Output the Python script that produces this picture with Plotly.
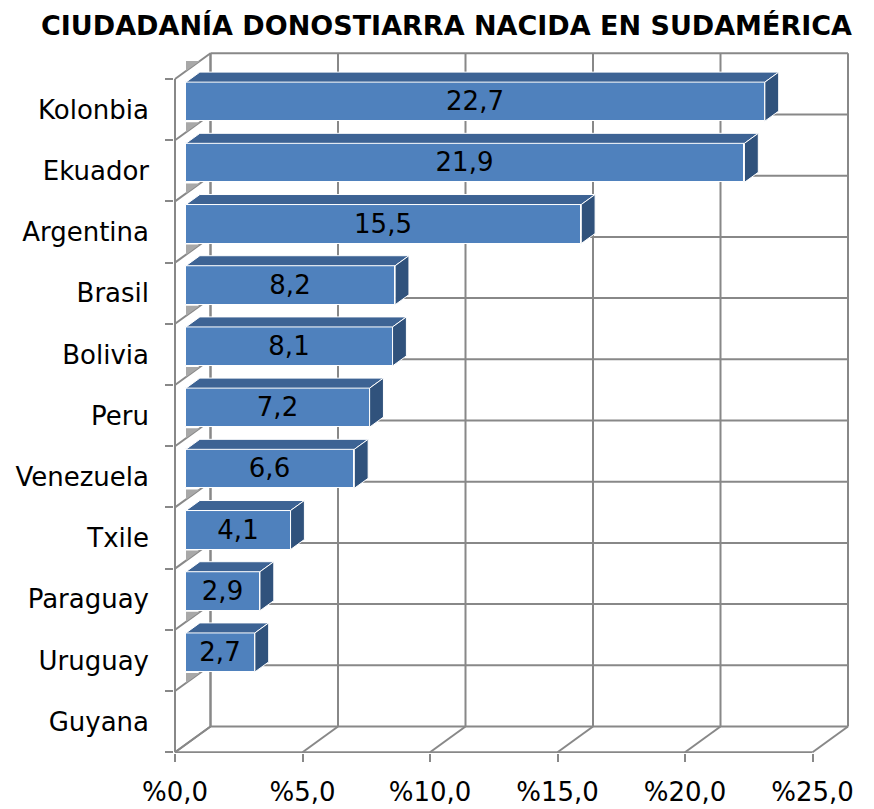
import plotly.graph_objects as go

categories = ["Kolonbia", "Ekuador", "Argentina", "Brasil", "Bolivia", "Peru",
              "Venezuela", "Txile", "Paraguay", "Uruguay", "Guyana"]
values = [22.7, 21.9, 15.5, 8.2, 8.1, 7.2, 6.6, 4.1, 2.9, 2.7, None]
x_ticks = [0, 5, 10, 15, 20, 25]
x_tick_labels = ["%0,0", "%5,0", "%10,0", "%15,0", "%20,0", "%25,0"]
title_text = "CIUDADANÍA DONOSTIARRA NACIDA EN SUDAMÉRICA"

# ---- 3D projection constants (style) ----
DX = 35.5 / 25.5      # depth offset in x data units
DY = 25.7 / 61.2      # depth offset in category units
F = 0.31              # bar front position along depth
BD = 0.39             # bar depth fraction
BH = 0.637            # bar height in category units
GRID = "#888888"
FONT = "DejaVu Sans"

n = len(categories)
xmax = x_ticks[-1]

fig = go.Figure()

# ---- walls (shapes below traces) ----
shapes = []
def seg(x0, y0, x1, y1):
    shapes.append(dict(type="line", xref="x", yref="y", x0=x0, y0=y0, x1=x1, y1=y1,
                       line=dict(color=GRID, width=2), layer="below"))

# left wall
seg(0, 0, 0, n)
seg(DX, -DY, DX, n - DY)
for k in range(n + 1):
    seg(0, k, DX, k - DY)
# back wall
for t in x_ticks:
    seg(t + DX, -DY, t + DX, n - DY)
for k in range(n + 1):
    seg(DX, k - DY, xmax + DX, k - DY)
# floor
seg(0, n, xmax, n)
for t in x_ticks:
    seg(t, n, t + DX, n - DY)

# small gray wall patches next to each category
fx = F * DX
bdx = BD * DX
bdy = BD * DY
for k in range(n):
    path = (f"M {fx},{k - (F + BD) * DY} L {fx + bdx},{k - (F + BD) * DY} "
            f"L {fx},{k - F * DY} Z")
    shapes.append(dict(type="path", xref="x", yref="y", path=path,
                       fillcolor="#A8A8A8", line=dict(width=0), layer="below"))

# ---- bar front faces ----
centers = [k + 0.5 - F * DY for k in range(n)]
texts = [("" if v is None else f"{v:.1f}".replace(".", ",")) for v in values]
fig.add_trace(go.Bar(
    y=centers, x=values, base=fx, orientation="h", width=BH,
    marker=dict(color="#4F81BD", line=dict(color="#FFFFFF", width=1)),
    text=texts, textposition="inside", insidetextanchor="middle",
    constraintext="none", textangle=0,
    textfont=dict(family=FONT, size=26, color="#000000"),
    hoverinfo="skip", showlegend=False,
))

# ---- top and side faces ----
tx, ty, sx, sy = [], [], [], []
for k, v in enumerate(values):
    if v is None:
        continue
    yt = centers[k] - BH / 2
    yb = centers[k] + BH / 2
    x1 = fx + v
    tx += [fx, x1, x1 + bdx, fx + bdx, fx, None]
    ty += [yt, yt, yt - bdy, yt - bdy, yt, None]
    sx += [x1, x1, x1 + bdx, x1 + bdx, x1, None]
    sy += [yt, yb, yb - bdy, yt - bdy, yt, None]

fig.add_trace(go.Scatter(x=tx, y=ty, mode="lines", fill="toself",
                         fillcolor="#3D6394", line=dict(color="#FFFFFF", width=1),
                         hoverinfo="skip", showlegend=False))
fig.add_trace(go.Scatter(x=sx, y=sy, mode="lines", fill="toself",
                         fillcolor="#30527C", line=dict(color="#FFFFFF", width=1),
                         hoverinfo="skip", showlegend=False))

W, H = 874, 809
PL, PR, PT, PB = 174, 850, 50, 753          # plot area in page pixels
X0PX, XUNIT = 175, 25.5                      # page px of x=0, px per unit
Y0PX, YUNIT = 79, 61.2                       # page px of category boundary 0, px per slot
x0 = (PL - X0PX) / XUNIT
x1r = (PR - X0PX) / XUNIT
y_top = (PT - Y0PX) / YUNIT
y_bot = (PB - Y0PX) / YUNIT

fig.update_layout(
    width=W, height=H,
    margin=dict(l=PL, r=W - PR, t=PT, b=H - PB, pad=0, autoexpand=False),
    paper_bgcolor="white", plot_bgcolor="white",
    shapes=shapes,
    title=dict(text=f"<b>{title_text}</b>", x=446.5 / W, xanchor="center",
               y=1 - 25.5 / H, yanchor="middle", xref="container", yref="container",
               font=dict(family=FONT, size=27, color="#000000")),
    font=dict(family=FONT, color="#000000"),
    xaxis=dict(range=[x0, x1r], tickvals=x_ticks, ticktext=x_tick_labels,
               ticks="outside", ticklen=8, tickwidth=2, tickcolor=GRID,
               showgrid=False, zeroline=False, showline=False, ticklabelstandoff=8,
               automargin=False,
               tickfont=dict(family=FONT, size=26, color="#000000")),
    yaxis=dict(range=[y_bot, y_top], tickvals=[k + 0.5 for k in range(n)],
               ticktext=categories, ticks="", showgrid=False, zeroline=False,
               showline=False, ticklabelstandoff=24, automargin=False,
               minor=dict(tickvals=list(range(n + 1)), ticks="outside", ticklen=8,
                          tickwidth=2, tickcolor=GRID, showgrid=False),
               tickfont=dict(family=FONT, size=26, color="#000000")),
    bargap=0,
)

fig.write_html(
    "out.html",
    config={"displayModeBar": False},
    post_script="document.body.style.margin='0px';"
                "document.documentElement.style.overflow='hidden';"
                "document.body.style.overflow='hidden';",
)
